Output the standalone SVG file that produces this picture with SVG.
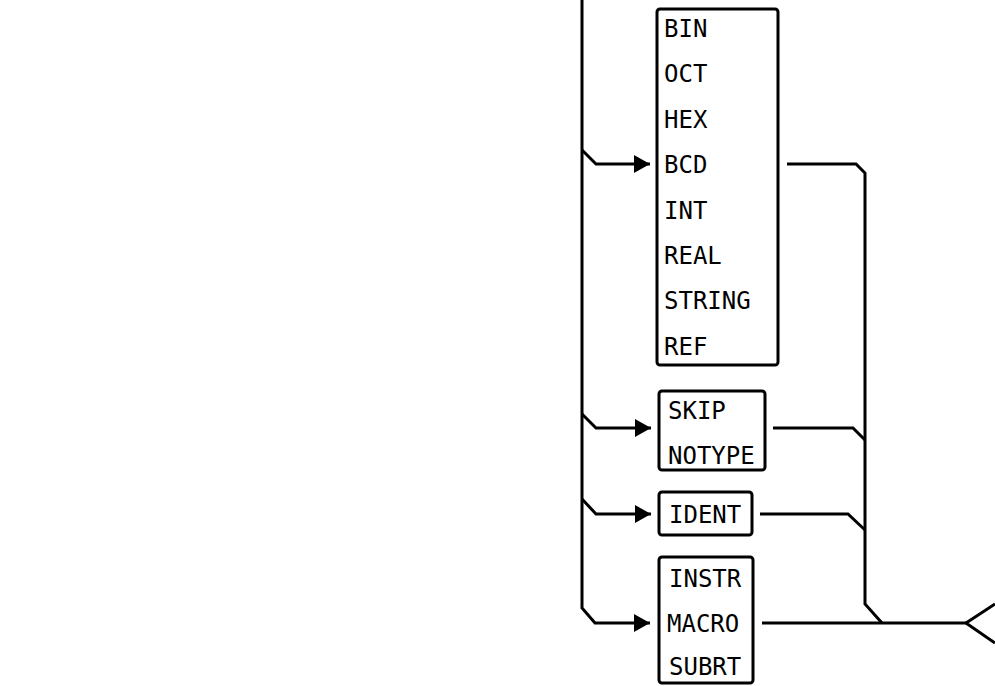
<svg xmlns="http://www.w3.org/2000/svg" width="995" height="686" viewBox="0 0 995 686">
<style>
.box{fill:none;stroke:#000;stroke-width:3}
.ln{fill:none;stroke:#000;stroke-width:3;stroke-linejoin:miter}
text{font-family:"DejaVu Sans Mono","Liberation Mono",monospace;font-size:24px;fill:#000}
</style>
<defs>
<marker id="ah" viewBox="0 0 16 18" refX="16" refY="9" markerWidth="16" markerHeight="18" markerUnits="userSpaceOnUse" orient="auto">
<path d="M0,0 L16,9 L0,18 Z" fill="#000"/>
</marker>
</defs>
<rect width="995" height="686" fill="#fff"/>
<g id="connectors">
<path class="ln" d="M582,0 V608 L595,623 H650" marker-end="url(#ah)"/>
<path class="ln" d="M582,150 L596,164 H650" marker-end="url(#ah)"/>
<path class="ln" d="M582,414 L596,428 H651" marker-end="url(#ah)"/>
<path class="ln" d="M582,499 L596,514 H651" marker-end="url(#ah)"/>
<path class="ln" d="M787,164 H856 L865,173 V604 L882,623"/>
<path class="ln" d="M773,428 H853 L865,440"/>
<path class="ln" d="M760,514 H848 L865,530"/>
<path class="ln" d="M762,623 H966"/>
<path class="ln" d="M995,604 L966,623 L995,643"/>
</g>
<g id="types">
<rect class="box" x="657" y="9" width="121" height="356" rx="3"/>
<text x="664" y="37">BIN</text>
<text x="664" y="82">OCT</text>
<text x="664" y="128">HEX</text>
<text x="664" y="173">BCD</text>
<text x="664" y="219">INT</text>
<text x="664" y="264">REAL</text>
<text x="664" y="309">STRING</text>
<text x="664" y="355">REF</text>
</g>
<g id="skip">
<rect class="box" x="659" y="391" width="106" height="79" rx="3"/>
<text x="668" y="419">SKIP</text>
<text x="668" y="464">NOTYPE</text>
</g>
<g id="ident">
<rect class="box" x="659" y="492" width="93" height="43" rx="3"/>
<text x="669" y="523">IDENT</text>
</g>
<g id="instr">
<rect class="box" x="659" y="557" width="94" height="126" rx="3"/>
<text x="669" y="587">INSTR</text>
<text x="667" y="632">MACRO</text>
<text x="669" y="675">SUBRT</text>
</g>
</svg>
